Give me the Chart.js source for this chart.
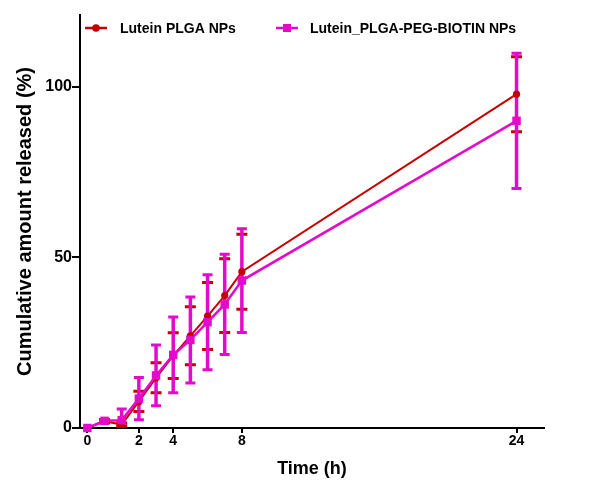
<!DOCTYPE html>
<html>
<head>
<meta charset="utf-8">
<script src="https://cdn.jsdelivr.net/npm/chart.js@4.4.1/dist/chart.umd.min.js"></script>
<style>
  html, body { margin: 0; padding: 0; background: #fff; }
  #wrap { width: 590px; height: 480px; }
</style>
</head>
<body>
<div id="wrap"><canvas id="c" width="590" height="480"></canvas></div>
<script>
// Plotted time positions (the first sampling point sits at the "0" label position)
const timePoints = [-1, 0, 1, 2, 3, 4, 5, 6, 7, 8, 24];
const xTickValues = [-1, 2, 4, 8, 24];
const xTickLabels = ['0', '2', '4', '8', '24'];
const yTickValues = [0, 50, 100];

const seriesNames = ['Lutein PLGA NPs', 'Lutein_PLGA-PEG-BIOTIN NPs'];
const plgaMean = [0, 2.0, 1.0, 7.8, 14.7, 21.2, 27.0, 32.8, 38.8, 45.8, 97.8];
const plgaErr  = [0, 0.5, 0.5, 3.0, 4.4, 6.7, 8.5, 9.8, 10.8, 11.0, 11.0];
const biotinMean = [0, 2.1, 2.3, 8.6, 15.4, 21.4, 25.8, 31.0, 36.2, 43.2, 90.0];
const biotinErr  = [0, 0.3, 3.3, 6.2, 8.9, 11.1, 12.6, 13.9, 14.7, 15.2, 19.8];

const RED = '#C40000';
const MAG = '#E30ACB';

const toXY = (xs, ys) => xs.map((x, i) => ({ x: x, y: ys[i] }));

const errorBarPlugin = {
  id: 'errorBars',
  beforeDatasetsDraw(chart) {
    const ctx = chart.ctx;
    const xs = chart.scales.x, ys = chart.scales.y;
    const area = chart.chartArea;
    ctx.save();
    ctx.beginPath();
    ctx.rect(area.left, area.top - 10, area.right - area.left, area.bottom - area.top + 10);
    ctx.clip();
    const draw = (means, errs, color, lw, capW, capLw) => {
      ctx.strokeStyle = color;
      means.forEach((m, i) => {
        const e = errs[i];
        if (!e) return;
        const px = xs.getPixelForValue(timePoints[i]);
        const top = ys.getPixelForValue(m + e);
        const bot = ys.getPixelForValue(m - e);
        ctx.lineWidth = lw;
        ctx.beginPath();
        ctx.moveTo(px, top); ctx.lineTo(px, bot);
        ctx.stroke();
        ctx.lineWidth = capLw;
        ctx.beginPath();
        ctx.moveTo(px - capW / 2, top); ctx.lineTo(px + capW / 2, top);
        ctx.moveTo(px - capW / 2, bot); ctx.lineTo(px + capW / 2, bot);
        ctx.stroke();
      });
    };
    draw(plgaMean, plgaErr, RED, 2, 11, 3);
    draw(biotinMean, biotinErr, MAG, 3.5, 10, 3);
    ctx.restore();
  }
};

const legendPlugin = {
  id: 'customLegend',
  afterDraw(chart) {
    const ctx = chart.ctx;
    ctx.save();
    const y = 28;
    ctx.font = 'bold 14px "Liberation Sans", Arial, sans-serif';
    ctx.textBaseline = 'middle';
    ctx.textAlign = 'left';
    ctx.strokeStyle = RED; ctx.lineWidth = 2.5;
    ctx.beginPath(); ctx.moveTo(85, y); ctx.lineTo(107, y); ctx.stroke();
    ctx.fillStyle = RED;
    ctx.beginPath(); ctx.arc(96, y, 3.8, 0, Math.PI * 2); ctx.fill();
    ctx.fillStyle = '#000';
    ctx.fillText(seriesNames[0], 120, y + 1);
    ctx.strokeStyle = MAG; ctx.lineWidth = 2.5;
    ctx.beginPath(); ctx.moveTo(276, y); ctx.lineTo(298, y); ctx.stroke();
    ctx.fillStyle = MAG;
    ctx.fillRect(283, y - 4, 8, 8);
    ctx.fillStyle = '#000';
    ctx.fillText(seriesNames[1], 310, y + 1);
    ctx.restore();
  }
};

new Chart(document.getElementById('c'), {
  type: 'line',
  data: {
    datasets: [
      {
        label: seriesNames[0],
        data: toXY(timePoints, plgaMean),
        borderColor: RED,
        backgroundColor: RED,
        borderWidth: 2,
        pointStyle: 'circle',
        pointRadius: 3.6,
        pointBorderWidth: 0,
        tension: 0,
        clip: false,
        order: 1
      },
      {
        label: seriesNames[1],
        data: toXY(timePoints, biotinMean),
        borderColor: MAG,
        backgroundColor: MAG,
        borderWidth: 2.5,
        pointStyle: 'rect',
        pointRadius: 6,
        pointBorderWidth: 0,
        tension: 0,
        clip: false,
        order: 0
      }
    ]
  },
  options: {
    responsive: false,
    animation: false,
    devicePixelRatio: 1,
    layout: { padding: { top: 15, right: 46, left: 0, bottom: 0 } },
    plugins: {
      legend: { display: false },
      tooltip: { enabled: false }
    },
    scales: {
      x: {
        type: 'linear',
        min: -1.43,
        max: 25.6,
        afterBuildTicks(scale) { scale.ticks = xTickValues.map(v => ({ value: v })); },
        afterFit(scale) { scale.height = 52; },
        grid: { display: true, drawOnChartArea: false, drawTicks: true, tickLength: 5, color: '#000', lineWidth: 2 },
        border: { display: true, color: '#000', width: 2 },
        ticks: {
          padding: 0,
          color: '#000',
          maxRotation: 0,
          autoSkip: false,
          font: { family: '"Liberation Sans", Arial, sans-serif', size: 14, weight: 'bold' },
          callback(v) { const i = xTickValues.indexOf(v); return i >= 0 ? xTickLabels[i] : ''; }
        },
        title: {
          display: true,
          text: 'Time (h)',
          color: '#000',
          padding: { top: 0, bottom: 0 },
          font: { family: '"Liberation Sans", Arial, sans-serif', size: 18, weight: 'bold', lineHeight: 1.2 }
        }
      },
      y: {
        type: 'linear',
        min: 0,
        max: 121,
        afterBuildTicks(scale) { scale.ticks = yTickValues.map(v => ({ value: v })); },
        afterFit(scale) { scale.width = 80; },
        grid: { display: true, drawOnChartArea: false, drawTicks: true, tickLength: 8, color: '#000', lineWidth: 2 },
        border: { display: true, color: '#000', width: 2 },
        ticks: {
          padding: 0,
          color: '#000',
          font: { family: '"Liberation Sans", Arial, sans-serif', size: 16, weight: 'bold' }
        },
        title: {
          display: true,
          text: 'Cumulative amount released (%)',
          color: '#000',
          padding: { top: 13, bottom: 0 },
          font: { family: '"Liberation Sans", Arial, sans-serif', size: 20, weight: 'bold', lineHeight: 1.2 }
        }
      }
    }
  },
  plugins: [errorBarPlugin, legendPlugin]
});
</script>
</body>
</html>
